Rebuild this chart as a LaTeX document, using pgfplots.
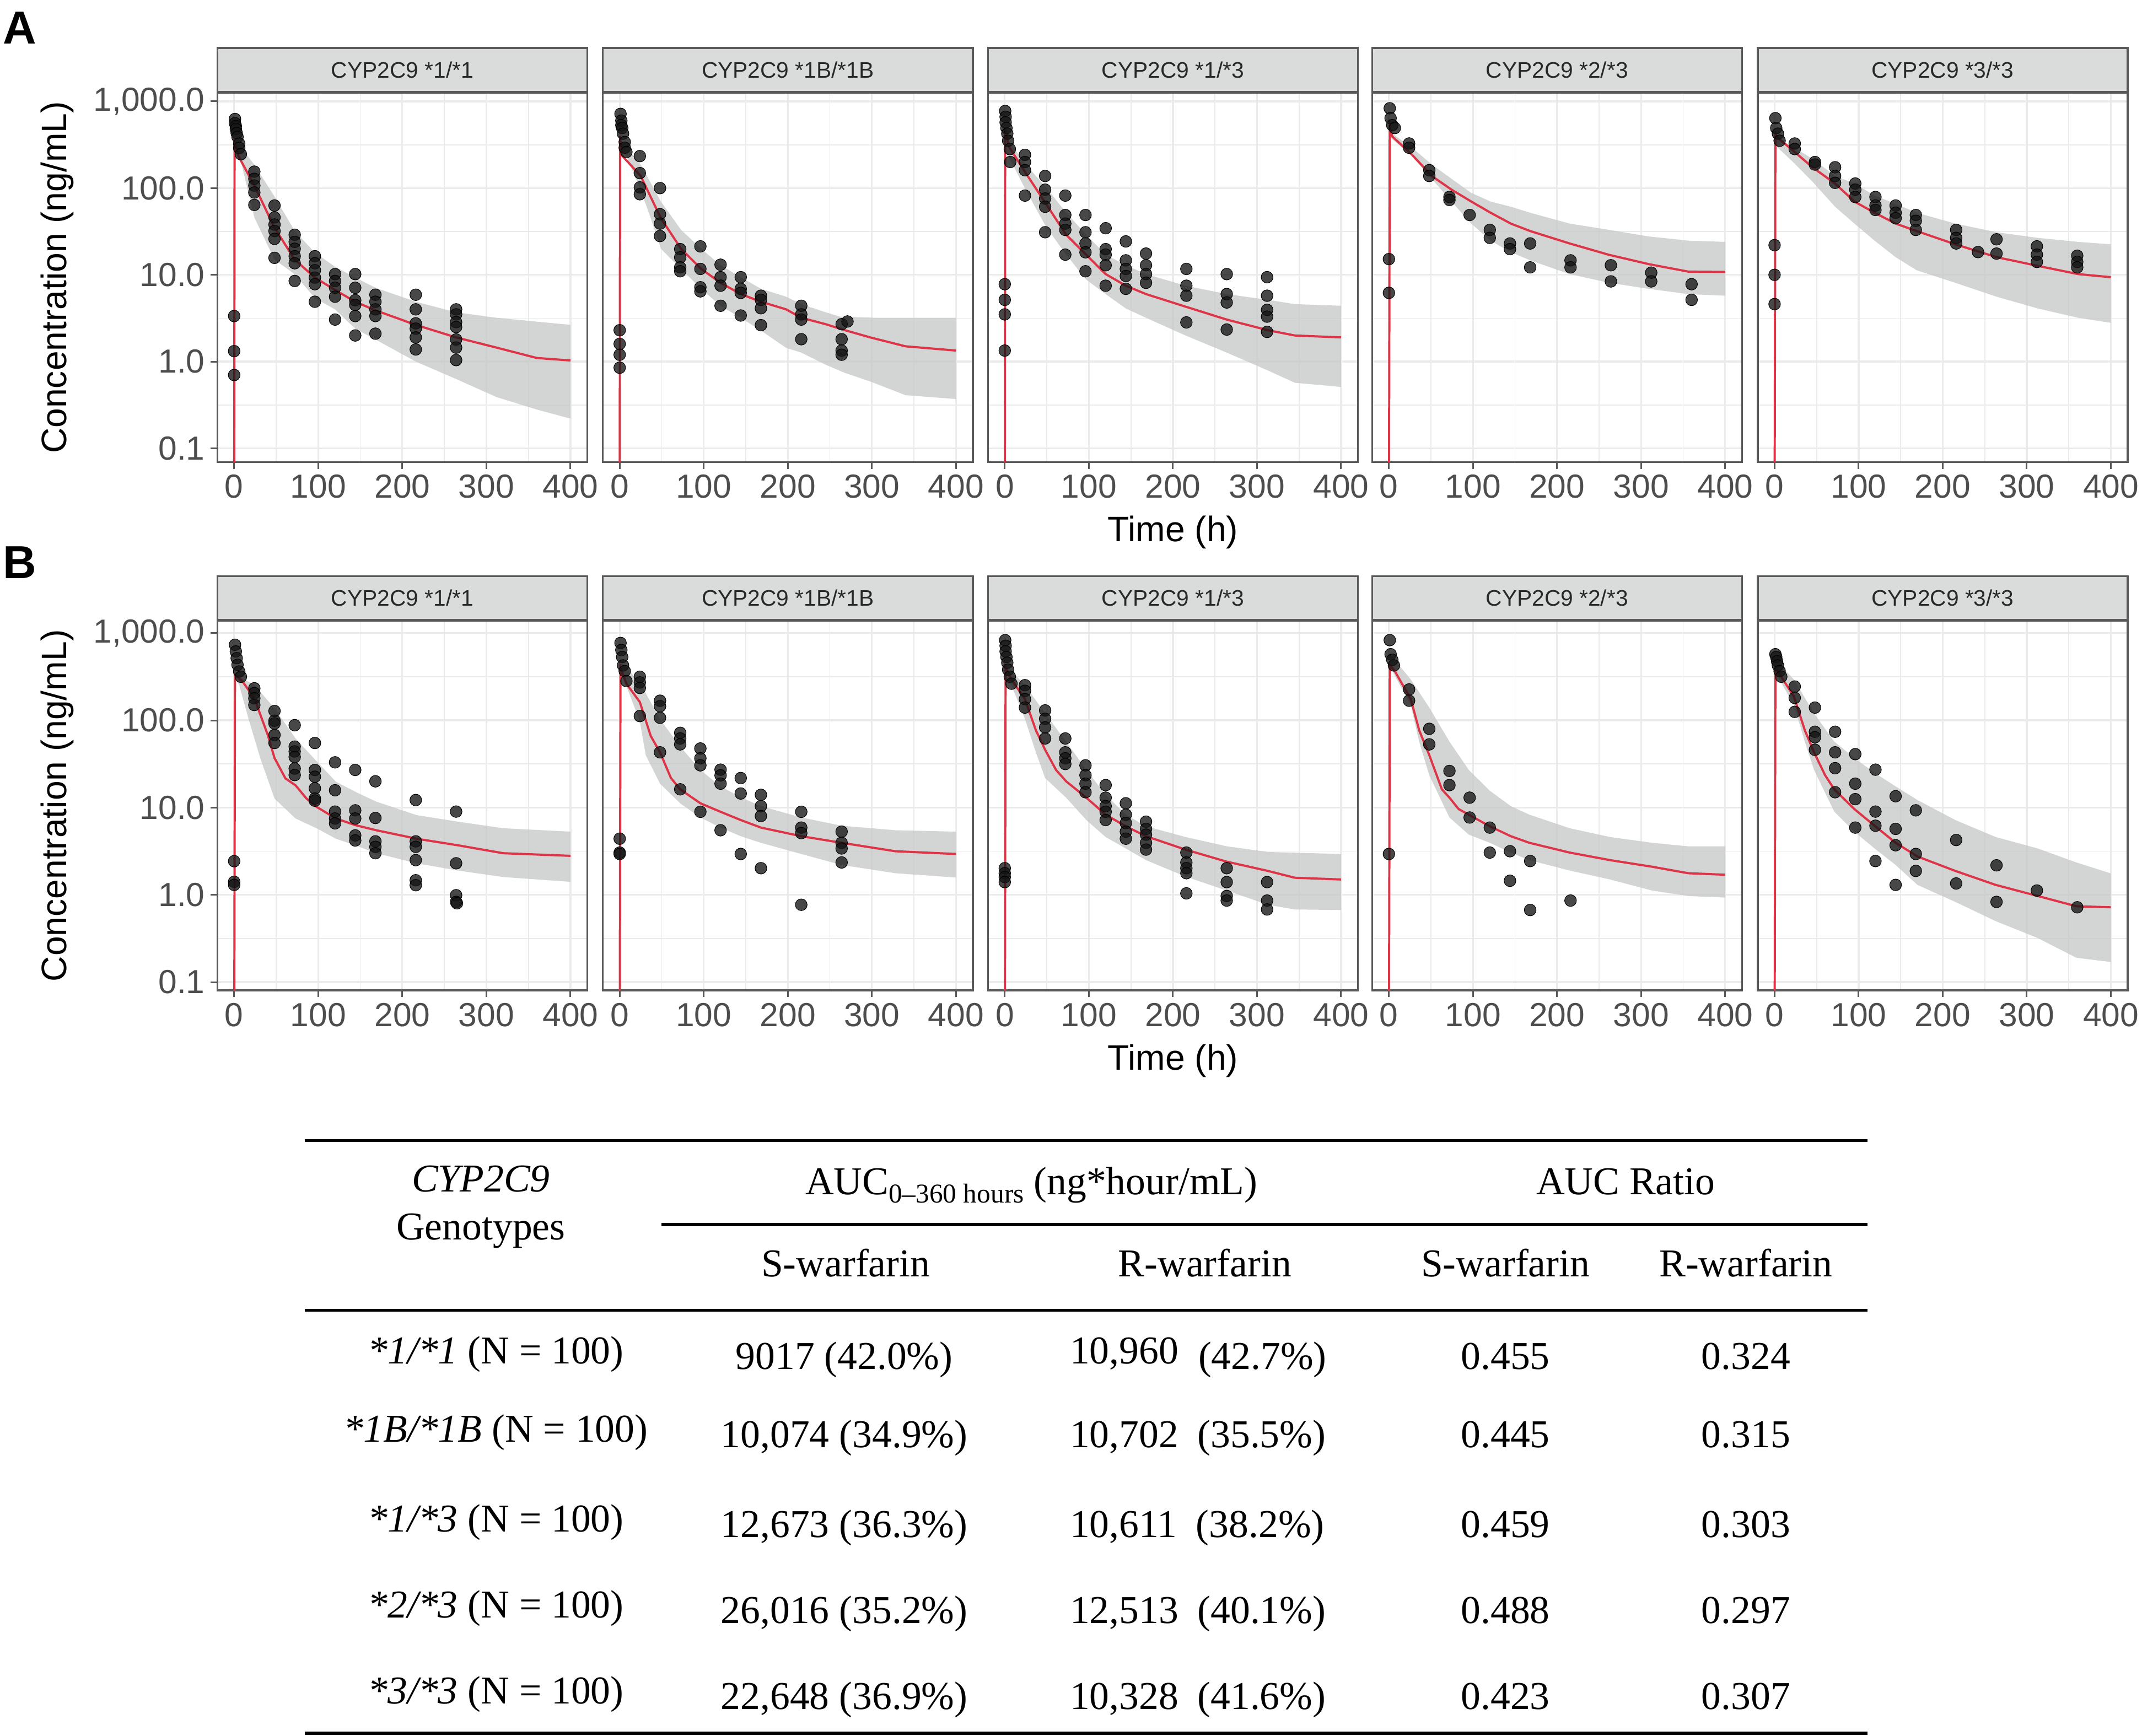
\documentclass[border=0pt]{standalone}
\usepackage{pgfplots}
\pgfplotsset{compat=1.18}
\usepackage{fontspec}
\setmainfont{Liberation Sans}
\newfontfamily\serif{Liberation Serif}
\definecolor{gridc}{RGB}{235,235,235}
\definecolor{borderc}{RGB}{89,89,89}
\definecolor{stripc}{RGB}{218,219,219}
\definecolor{tickc}{RGB}{77,77,77}
\definecolor{striptxt}{RGB}{40,40,40}
\definecolor{ribc}{RGB}{200,201,201}
\definecolor{medc}{RGB}{222,52,72}
\definecolor{ptc}{RGB}{20,20,20}
\newcommand\ticksz{\fontsize{24.5}{28}\selectfont}
\newcommand\labsz{\fontsize{26}{30}\selectfont}
\newcommand\stripsz{\fontsize{16.5}{19}\selectfont}
\newcommand\tabsz{\serif\fontsize{29}{34}\selectfont}
\pgfplotsset{
 mypanel/.style={
  scale only axis, width=270.8bp, height=270.5bp,
  xmin=-20, xmax=420,
  xtick={0,100,200,300,400}, xticklabels={0,100,200,300,400},
  minor xtick={50,150,250,350},
  ytick={0.1,1,10,100,1000},
  minor ytick={0.316228,3.16228,31.6228,316.228},
  grid=both,
  major grid style={draw=gridc, line width=1.3bp},
  minor grid style={draw=gridc, line width=0.7bp},
  axis line style={draw=borderc, line width=1.4bp},
  tick style={draw=borderc, line width=1.2bp},
  major tick length=5bp, minor tick length=0bp,
  tick align=outside, tick pos=left,
  ticklabel style={font=\ticksz, text=tickc, inner sep=0pt},
  xticklabel shift=4bp, yticklabel shift=4bp,
  every axis title/.style={at={(0.5,1)}, anchor=south, draw=borderc, fill=stripc, line width=1.4bp, minimum width=270.8bp, minimum height=32bp, inner sep=0pt, font=\stripsz, text=striptxt},
  ylabel style={at={(axis description cs:-0.4324,0.5)}, anchor=center, font=\labsz},
  xlabel style={at={(axis description cs:0.5,-0.19)}, anchor=center, font=\labsz},
 },
 myfirst/.style={yticklabels={0.1,1.0,10.0,100.0,{1,000.0}}, ylabel={Concentration (ng/mL)}},
 myinner/.style={yticklabels={}, ytick style={draw=none}},
 myrib/.style={draw=none, fill=ribc, fill opacity=0.8},
 mymed/.style={draw=medc, line width=1.6bp, no marks},
 mypts/.style={only marks, mark=*, mark size=4.3bp, mark options={draw=none, fill=ptc, fill opacity=0.78}},
}
\begin{document}
\begin{tikzpicture}
\path[use as bounding box] (0bp,0bp) rectangle (1568bp,1271bp);
\node[font=\fontsize{34}{34}\selectfont\bfseries] at (14.5bp,1250.5bp) {A};
\node[font=\fontsize{34}{34}\selectfont\bfseries] at (14.5bp,859bp) {B};

% ---------------- Row A ----------------
\begin{axis}[ymode=log, ymin=0.0692, ymax=1259, mypanel, myfirst, at={(159.1bp,932.6bp)}, anchor=south west, title={CYP2C9 *1/*1}]
\addplot[myrib] coordinates {(1,330) (8,296) (24,186) (48,80) (72,32) (96,18) (120,12.4) (144,9.3) (168,7.1) (216,4.9) (264,3.7) (312,3.2) (400,2.65)
 (400,0.22) (360,0.28) (312,0.39) (264,0.63) (216,1.0) (168,1.8) (144,2.4) (120,4.0) (96,5.4) (72,10.2) (48,15) (24,46) (8,204) (1,260)} --cycle;
\addplot[mymed] coordinates {(0,0.01) (0.5,330) (2,300) (5,235) (24,107) (48,35) (72,15) (96,9.3) (120,6.7) (144,4.9) (168,3.9) (216,2.65) (264,1.9) (312,1.45) (360,1.1) (400,1.03)};
\addplot[mypts] coordinates {(0,3.35) (0,1.32) (0,0.70)
 (1,627) (1,560) (2,520) (2,480) (3,431) (4,390) (6,326) (6,290) (8,246)
 (24,155) (24,128) (24,107) (24,89) (24,64)
 (48,63) (48,46) (48,38) (48,32) (48,26) (48,15.7)
 (72,29) (72,24) (72,20) (72,16.4) (72,13.6) (72,8.5)
 (96,16.4) (96,13.6) (96,11.3) (96,9.3) (96,7.8) (96,4.9)
 (120,10.2) (120,8.5) (120,7.1) (120,5.6) (120,3.05)
 (144,10.2) (144,7.1) (144,5.1) (144,4.5) (144,3.35) (144,2.0)
 (168,5.9) (168,4.9) (168,4.0) (168,3.35) (168,2.1)
 (216,5.9) (216,4.0) (216,2.76) (216,2.4) (216,1.9) (216,1.38)
 (264,4.0) (264,3.5) (264,2.85) (264,2.5) (264,1.8) (264,1.45) (264,1.04)};
\end{axis}

\begin{axis}[ymode=log, ymin=0.0692, ymax=1259, mypanel, myinner, at={(441.3bp,932.6bp)}, anchor=south west, title={CYP2C9 *1B/*1B}]
\addplot[myrib] coordinates {(1,360) (8,292) (25,187) (49,70) (73,33) (97,20) (120,12.9) (144,9.4) (168,6.9) (198,5.6) (216,4.6) (245,3.7) (262,3.3) (304,3.2) (400,3.2)
 (400,0.37) (340,0.41) (298,0.59) (268,0.74) (245,0.92) (216,1.27) (198,1.44) (168,2.28) (144,3.2) (120,4.4) (97,6.9) (73,11.7) (49,20) (37,45) (25,95) (8,234) (1,280)} --cycle;
\addplot[mymed] coordinates {(0,0.01) (0.5,400) (2,242) (25,138) (49,45) (73,20) (97,11.7) (120,8.1) (144,6.0) (168,4.9) (198,4.0) (216,3.2) (245,2.7) (268,2.3) (298,1.9) (340,1.5) (400,1.34)};
\addplot[mypts] coordinates {(0,2.3) (0,1.6) (0,1.2) (0,0.85)
 (1,718) (2,600) (2,532) (3,493) (4,425) (6,340) (6,292) (8,261)
 (24,234) (24,149) (24,102) (24,85)
 (48,100) (48,50) (48,39) (48,28)
 (72,19.8) (72,15.9) (72,12.2) (72,11)
 (96,21.3) (96,11.7) (96,7.2) (96,6.45)
 (120,13.1) (120,9.4) (120,7.5) (120,4.4)
 (144,9.4) (144,6.9) (144,6.2) (144,3.4)
 (168,5.75) (168,5.15) (168,4.12) (168,2.63)
 (216,4.4) (216,3.5) (216,3.05) (216,1.81)
 (264,2.7) (264,1.81) (264,1.34) (264,1.2) (271,2.9)};
\end{axis}

\begin{axis}[ymode=log, ymin=0.0692, ymax=1259, mypanel, myinner, at={(723.2bp,932.6bp)}, anchor=south west, title={CYP2C9 *1/*3}, xlabel={Time (h)}]
\addplot[myrib] coordinates {(1,380) (8,315) (25,187) (49,102) (73,52) (97,29) (120,17.1) (144,12.9) (168,10.2) (215,7.5) (264,6.0) (313,5.15) (345,4.6) (400,4.4)
 (400,0.51) (345,0.57) (313,0.79) (264,1.27) (215,2.0) (168,3.2) (144,4.1) (120,6.0) (97,8.8) (73,17.1) (49,36) (25,95) (8,200) (1,260)} --cycle;
\addplot[mymed] coordinates {(0,0.01) (0.5,500) (5,300) (25,149) (49,66) (73,29) (97,17) (120,10.2) (144,7.5) (168,6.0) (215,4.3) (264,3.05) (313,2.3) (345,2.0) (400,1.9)};
\addplot[mypts] coordinates {(0,7.8) (0,5.15) (0,3.5) (0,1.34)
 (0.5,775) (1,664) (1,573) (2,493) (3,425) (4,352) (6,282) (6.5,200)
 (24,242) (24,200) (24,161) (24,82)
 (48,138) (48,96) (48,76) (48,61) (48,31)
 (72,82) (72,49) (72,39) (72,33) (72,17.1)
 (96,49) (96,31) (96,23) (96,18.2) (96,11)
 (120,34.5) (120,19.8) (120,17.1) (120,12.9) (120,7.5)
 (144,24.3) (144,14.7) (144,11.7) (144,9.7) (144,6.9)
 (168,17.6) (168,12.9) (168,10.2) (168,8.1)
 (216,11.7) (216,7.5) (216,5.75) (216,2.83)
 (264,10.2) (264,6.0) (264,4.8) (264,2.34)
 (312,9.4) (312,5.75) (312,3.95) (312,3.3) (312,2.2)};
\end{axis}

\begin{axis}[ymode=log, ymin=0.0692, ymax=1259, mypanel, myinner, at={(1004.4bp,932.6bp)}, anchor=south west, title={CYP2C9 *2/*3}]
\addplot[myrib] coordinates {(1,500) (4,425) (27.6,292) (51,187) (74.5,128) (98,88) (121,70) (145,61) (168,52) (215,39) (262,33) (309,27.7) (356,24.8) (400,24)
 (400,5.75) (356,6.0) (309,6.9) (262,8.1) (215,10.2) (168,14.7) (145,18.3) (121,24.8) (98,39) (74.5,70) (51,128) (27.6,234) (4,366) (1,400)} --cycle;
\addplot[mymed] coordinates {(0,0.01) (1,520) (4,394) (27.6,242) (51,138) (74.5,96) (98,70) (121,52) (145,39) (168,32) (215,23) (262,17) (309,13.3) (356,10.9) (400,10.8)};
\addplot[mypts] coordinates {(0,15.2) (0,6.2)
 (1,833) (2,641) (4,532) (7,493)
 (24,327) (24,292) (48,161) (48,138) (72,79) (72,73) (96,49)
 (120,33) (120,26.7) (144,23) (144,19.8) (168,23) (168,12.2)
 (216,14.7) (216,12.2) (264,12.9) (264,8.4) (312,10.6) (312,8.4) (360,7.8) (360,5.15)};
\end{axis}

\begin{axis}[ymode=log, ymin=0.0692, ymax=1259, mypanel, myinner, at={(1286.7bp,932.6bp)}, anchor=south west, title={CYP2C9 *3/*3}]
\addplot[myrib] coordinates {(1,420) (4,366) (22,300) (45,217) (72,138) (95,113) (119,82) (144,66) (169,52) (215,39) (264,31) (313,26.7) (361,24) (400,22.5)
 (400,2.8) (361,3.2) (313,4.1) (264,5.6) (215,8.1) (169,11.3) (144,16) (119,24.8) (95,39) (72,61) (45,119) (22,200) (4,292) (1,330)} --cycle;
\addplot[mymed] coordinates {(0,0.01) (1,450) (2,394) (22,271) (45,174) (72,113) (95,70) (119,52) (144,39) (169,32) (215,22.5) (264,16) (313,12.7) (361,10.2) (400,9.4)};
\addplot[mypts] coordinates {(0,22) (0,10) (0,4.6)
 (1,641) (2,493) (4,425) (6,352)
 (24,327) (24,282) (48,200) (48,187)
 (72,174) (72,138) (72,115) (96,113) (96,96) (96,79)
 (120,79) (120,63) (120,56) (144,63) (144,52) (144,45)
 (168,49) (168,42) (168,33) (216,33) (216,26.7) (216,23) (242,18.3)
 (264,25.7) (264,17.6) (312,21.3) (312,17.1) (312,14.1) (360,16.6) (360,14.1) (360,12.2)};
\end{axis}

% ---------------- Row B ----------------
\begin{axis}[ymode=log, ymin=0.0804, ymax=1380, mypanel, myfirst, at={(159.1bp,545.9bp)}, anchor=south west, title={CYP2C9 *1/*1}]
\addplot[myrib] coordinates {(1,380) (6,316) (24,255) (48,137) (73,62) (98,34) (121,19.8) (144,15.2) (169,11.7) (217,8.2) (266,6.9) (320,5.8) (400,5.3)
 (400,1.41) (320,1.6) (266,1.9) (217,2.3) (169,3.0) (144,3.7) (121,4.4) (98,5.8) (73,7.5) (48,12.7) (31,37) (17,105) (6,255) (1,300)} --cycle;
\addplot[mymed] coordinates {(0,0.01) (1,330) (10,279) (24,179) (40,68) (48,37) (61,21.6) (73,18) (86,12.7) (98,10.2) (121,7.5) (144,6.3) (169,5.5) (217,4.4) (266,3.7) (320,3.0) (400,2.8)};
\addplot[mypts] coordinates {(0,2.43) (0,1.41) (0,1.3)
 (1,735) (2,616) (3,516) (4,433) (6,363) (8,316)
 (24,233) (24,205) (24,179) (24,150)
 (48,128) (48,99) (48,92) (48,68) (48,55)
 (72,88) (72,50) (72,44) (72,38) (72,28) (72,23.6)
 (96,55) (96,27) (96,22.6) (96,16.6) (96,12.7) (96,12.0)
 (120,33) (120,15.8) (120,9.0) (120,7.5) (120,6.6)
 (144,27) (144,9.3) (144,7.5) (144,4.8) (144,4.2)
 (168,20) (168,7.6) (168,4.1) (168,3.55) (168,3.0)
 (216,12.2) (216,4.1) (216,3.55) (216,2.5) (216,1.47) (216,1.29)
 (264,9.0) (264,2.3) (264,0.99) (264,0.83) (265,0.8)};
\end{axis}

\begin{axis}[ymode=log, ymin=0.0804, ymax=1380, mypanel, myinner, at={(441.3bp,545.9bp)}, anchor=south west, title={CYP2C9 *1B/*1B}]
\addplot[myrib] coordinates {(1,480) (5,426) (24,272) (48,103) (72,50) (96,27) (120,17.5) (144,13.1) (168,10.4) (216,7.7) (264,6.2) (328,5.5) (400,5.3)
 (400,1.58) (328,1.77) (264,2.2) (216,2.94) (168,3.95) (144,4.7) (120,5.9) (96,7.7) (72,11.2) (48,18.8) (31,40) (24,97) (14,175) (5,294) (1,330)} --cycle;
\addplot[mymed] coordinates {(0,0.01) (1,400) (8,263) (24,162) (37,66) (48,43) (61,21.8) (72,16.2) (96,11.2) (120,8.95) (144,7.2) (168,5.9) (216,4.7) (264,3.95) (328,3.16) (400,2.94)};
\addplot[mypts] coordinates {(0,4.4) (0,3.05) (0,2.94)
 (1,771) (2,640) (3,532) (4,426) (6,367) (8,282)
 (24,316) (24,272) (24,235) (24,112)
 (48,168) (48,145) (48,107) (48,43)
 (72,72) (72,62) (72,53) (72,16.2)
 (96,47.6) (96,36.7) (96,30.5) (96,8.95)
 (120,27.2) (120,23.4) (120,18.8) (120,5.5)
 (144,21.8) (144,14.5) (144,2.94)
 (168,14) (168,10.4) (168,8.0) (168,2.02)
 (216,8.95) (216,5.9) (216,5.1) (216,0.77)
 (264,5.3) (264,3.95) (264,3.4) (264,2.35)};
\end{axis}

\begin{axis}[ymode=log, ymin=0.0804, ymax=1380, mypanel, myinner, at={(723.2bp,545.9bp)}, anchor=south west, title={CYP2C9 *1/*3}, xlabel={Time (h)}]
\addplot[myrib] coordinates {(1,420) (8,367) (24,253) (48,120) (73,57) (97,27) (120,14) (144,8.3) (168,6.1) (215,4.6) (264,3.6) (313,3.1) (400,2.94)
 (400,0.67) (345,0.68) (313,0.77) (264,1.12) (215,1.62) (168,2.5) (144,3.4) (120,4.6) (97,7.2) (73,13) (48,21.8) (37,43) (24,104) (8,253) (1,300)} --cycle;
\addplot[mymed] coordinates {(0,0.01) (1,400) (8,294) (24,175) (37,77) (48,46) (61,27) (73,20) (97,13) (120,8.3) (144,6.1) (168,4.7) (215,3.3) (264,2.4) (313,1.88) (345,1.57) (400,1.5)};
\addplot[mypts] coordinates {(0,2.02) (0,1.77) (0,1.6) (0,1.4)
 (0.5,830) (1,716) (1,617) (2,532) (3,458) (4,381) (6,316) (8,263)
 (24,253) (24,218) (24,175) (24,140)
 (48,130) (48,104) (48,83) (48,62)
 (72,62) (72,43) (72,36.7) (72,31.6)
 (96,30.5) (96,23.5) (96,18.8) (96,15)
 (120,18.1) (120,13) (120,10.4) (120,8.95) (120,7.2)
 (144,11.2) (144,8.3) (144,6.65) (144,5.3) (144,4.4)
 (168,6.9) (168,5.7) (168,4.9) (168,3.95) (168,3.3)
 (216,3.05) (216,2.35) (216,2.02) (216,1.77) (216,1.04)
 (264,2.02) (264,1.4) (264,0.97) (264,0.86)
 (312,1.4) (312,0.86) (312,0.68)};
\end{axis}

\begin{axis}[ymode=log, ymin=0.0804, ymax=1380, mypanel, myinner, at={(1004.4bp,545.9bp)}, anchor=south west, title={CYP2C9 *2/*3}]
\addplot[myrib] coordinates {(1,560) (4,532) (26,294) (48,140) (72,57) (95,27) (120,15.6) (145,10.4) (167,8.3) (215,5.8) (263,4.6) (313,3.95) (356,3.6) (400,3.6)
 (400,0.93) (356,0.97) (313,1.12) (263,1.5) (215,1.9) (167,2.5) (145,3.05) (120,3.95) (95,4.9) (72,7.7) (48,23.5) (36,57) (26,150) (4,367) (1,400)} --cycle;
\addplot[mymed] coordinates {(0,0.01) (1,430) (7,367) (26,175) (36,77) (48,40) (63,16.2) (72,13) (83,9.6) (95,8.3) (120,6.1) (145,4.7) (167,3.95) (215,3.05) (263,2.5) (313,2.1) (356,1.77) (400,1.7)};
\addplot[mypts] coordinates {(0,2.94)
 (1,830) (2,573) (4,494) (6,426)
 (24,226) (24,168) (48,80) (48,53) (72,26.3) (72,18.1)
 (96,13) (96,7.7) (120,5.9) (120,3.05) (144,3.16) (144,1.45)
 (168,2.44) (168,0.67) (216,0.86)};
\end{axis}

\begin{axis}[ymode=log, ymin=0.0804, ymax=1380, mypanel, myinner, at={(1286.7bp,545.9bp)}, anchor=south west, title={CYP2C9 *3/*3}]
\addplot[myrib] coordinates {(1,500) (4,458) (23,294) (47,120) (71,57) (95,37) (119,25) (144,17.5) (170,12.2) (215,7.2) (263,4.6) (313,3.4) (359,2.35) (400,1.76)
 (400,0.17) (359,0.19) (313,0.32) (263,0.5) (215,0.83) (170,1.3) (144,2.2) (119,3.4) (95,5.3) (71,9.0) (47,27) (36,57) (23,150) (4,316) (1,350)} --cycle;
\addplot[mymed] coordinates {(0,0.01) (1,400) (10,294) (23,188) (36,77) (47,43) (60,23.6) (71,16.2) (95,9.6) (119,6.2) (144,3.95) (170,2.75) (215,1.88) (263,1.3) (313,0.97) (359,0.74) (400,0.72)};
\addplot[mypts] coordinates {(1,573) (2,532) (3,475) (4,426) (6,367) (8,316)
 (24,244) (24,181) (24,125)
 (48,140) (48,74) (48,64) (48,46)
 (72,74) (72,43) (72,28.3) (72,15)
 (96,41) (96,18.8) (96,12.5) (96,5.9)
 (120,27.2) (120,9.0) (120,6.2) (120,2.44)
 (144,13.5) (144,5.7) (144,3.7) (144,1.3)
 (168,9.3) (168,2.94) (168,1.88)
 (216,4.25) (216,1.35) (264,2.18) (264,0.83) (312,1.12) (360,0.72)};
\end{axis}

% ---------------- Table ----------------
\draw[line width=2.3bp] (223bp,436bp) -- (1367bp,436bp);
\draw[line width=2.3bp] (484bp,374.3bp) -- (1367bp,374.3bp);
\draw[line width=2.3bp] (223bp,311.7bp) -- (1367bp,311.7bp);
\draw[line width=2.3bp] (223bp,2bp) -- (1367bp,2bp);
\begin{scope}[every node/.style={font=\tabsz, inner sep=0pt, anchor=base}]
\node at (352bp,398.4bp) {\itshape CYP2C9};
\node at (352bp,363.4bp) {Genotypes};
\node at (755bp,396.4bp) {AUC\raisebox{-6bp}{\fontsize{20}{20}\selectfont 0–360 hours} (ng*hour/mL)};
\node at (1190bp,396.4bp) {AUC Ratio};
\node at (619bp,336.4bp) {S-warfarin};
\node at (882bp,336.4bp) {R-warfarin};
\node at (1102bp,336.4bp) {S-warfarin};
\node at (1278bp,336.4bp) {R-warfarin};
\node at (363bp,272.4bp) {{\itshape *1/*1} (N = 100)};
\node at (363bp,215.4bp) {{\itshape *1B/*1B} (N = 100)};
\node at (363bp,149.4bp) {{\itshape *1/*3} (N = 100)};
\node at (363bp,86.4bp) {{\itshape *2/*3} (N = 100)};
\node at (363bp,23.4bp) {{\itshape *3/*3} (N = 100)};
\node at (618bp,268.4bp) {9017 (42.0\%)};
\node at (618bp,211.4bp) {10,074 (34.9\%)};
\node at (618bp,145.4bp) {12,673 (36.3\%)};
\node at (618bp,82.4bp) {26,016 (35.2\%)};
\node at (618bp,19.4bp) {22,648 (36.9\%)};
\node[anchor=base west] at (783bp,272.4bp) {10,960};
\node[anchor=base west] at (877bp,268.4bp) {(42.7\%)};
\node[anchor=base west] at (783bp,211.4bp) {10,702\hspace{14bp}(35.5\%)};
\node[anchor=base west] at (783bp,145.4bp) {10,611\hspace{14bp}(38.2\%)};
\node[anchor=base west] at (783bp,82.4bp) {12,513\hspace{14bp}(40.1\%)};
\node[anchor=base west] at (783bp,19.4bp) {10,328\hspace{14bp}(41.6\%)};
\node at (1102bp,268.4bp) {0.455};
\node at (1102bp,211.4bp) {0.445};
\node at (1102bp,145.4bp) {0.459};
\node at (1102bp,82.4bp) {0.488};
\node at (1102bp,19.4bp) {0.423};
\node at (1278bp,268.4bp) {0.324};
\node at (1278bp,211.4bp) {0.315};
\node at (1278bp,145.4bp) {0.303};
\node at (1278bp,82.4bp) {0.297};
\node at (1278bp,19.4bp) {0.307};
\end{scope}
\end{tikzpicture}
\end{document}
